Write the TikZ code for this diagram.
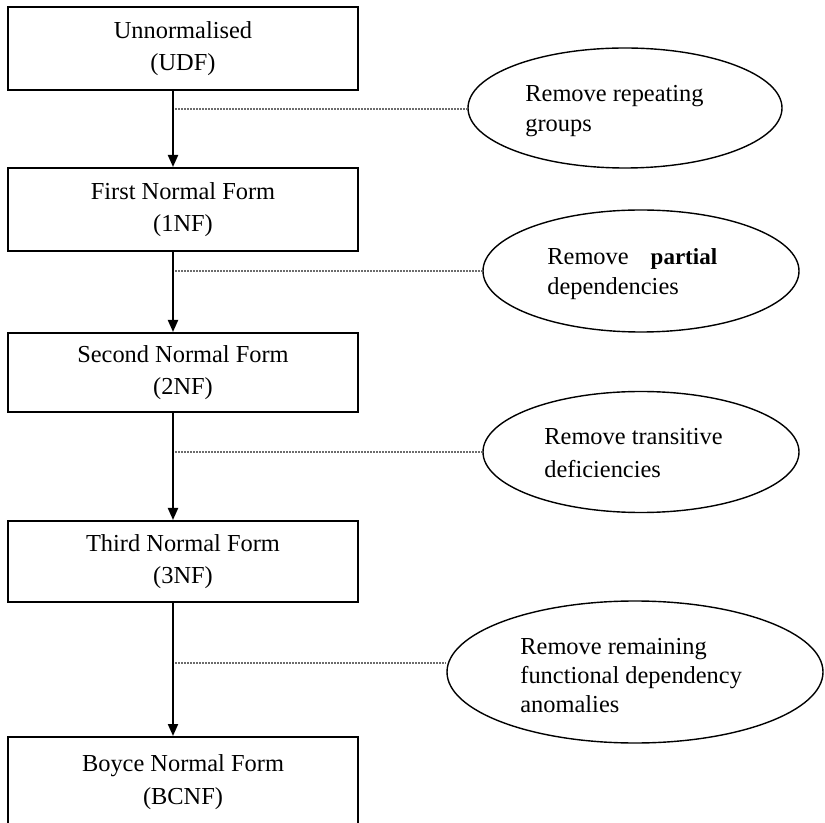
\documentclass[tikz,border=0pt]{standalone}
\usepackage{fontspec}
\setmainfont{Liberation Serif}
\usetikzlibrary{shapes.geometric,arrows.meta}
\begin{document}
\begin{tikzpicture}[x=0.5pt,y=-0.5pt,
  stage/.style={draw, line width=1pt, minimum width=175pt, align=center,
    inner sep=0pt, font=\fontsize{12.2pt}{16.25pt}\selectfont,
    execute at begin node={\rule{0pt}{11.3pt}}},
  action/.style={draw, ellipse, line width=0.7pt, inner sep=0pt},
  note/.style={anchor=west, align=left, inner sep=0pt,
    font=\fontsize{12.2pt}{14.75pt}\selectfont},
  flow/.style={line width=1pt, -{Triangle[length=6pt,width=5pt]}},
  link/.style={draw=gray!85!black, line width=0.6pt, dash pattern=on 1pt off 0.5pt}]
\clip (0,0) rectangle (825,823);

% normal forms
\node[stage, minimum height=41.5pt] (b1) at (183,48.5) {Unnormalised\\(UDF)};
\node[stage, minimum height=41.5pt] (b2) at (183,209.5) {First Normal Form\\(1NF)};
\node[stage, minimum height=39.5pt] (b3) at (183,372.5) {Second Normal Form\\(2NF)};
\node[stage, minimum height=40.5pt] (b4) at (183,561.5) {Third Normal Form\\(3NF)};
\node[stage, minimum height=45pt] (b5) at (183,782) {Boyce Normal Form\\(BCNF)};

% actions between the forms
\node[action, minimum width=157pt, minimum height=60pt] (e1) at (625,108) {};
\node[action, minimum width=158pt, minimum height=61pt] (e2) at (641,271) {};
\node[action, minimum width=158pt, minimum height=60.5pt] (e3) at (641,452) {};
\node[action, minimum width=188pt, minimum height=71pt] (e4) at (635,672) {};

\node[note] (t1) at (525,111) {Remove repeating\\groups};
\node[note] (t2) at (547,274.3) {Remove\hspace{11pt}{\bfseries\fontsize{11.5pt}{14.75pt}\selectfont partial}\\dependencies};
\node[note, font=\fontsize{12.2pt}{16.5pt}\selectfont] (t3) at (544,453.3) {Remove transitive\\deficiencies};
\node[note, font=\fontsize{12.2pt}{14.5pt}\selectfont] (t4) at (520,675.5) {Remove remaining\\functional dependency\\anomalies};

% main flow
\coordinate (ax) at (173,0);
\draw[flow] (b1.south -| ax) -- (b2.north -| ax);
\draw[flow] (b2.south -| ax) -- (b3.north -| ax);
\draw[flow] (b3.south -| ax) -- (b4.north -| ax);
\draw[flow] (b4.south -| ax) -- (b5.north -| ax);

% links from the flow to the actions
\coordinate (d1) at (175,109);
\coordinate (d2) at (175,271);
\coordinate (d3) at (175,452);
\coordinate (d4) at (175,663);
\draw[link] (d1) -- (d1 -| e1.west);
\draw[link] (d2) -- (d2 -| e2.west);
\draw[link] (d3) -- (d3 -| e3.west);
\draw[link] (d4) -- (d4 -| e4.west);
\end{tikzpicture}
\end{document}
